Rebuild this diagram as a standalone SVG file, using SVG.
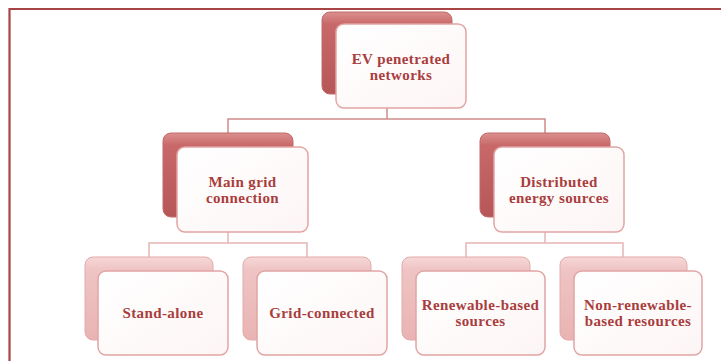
<svg xmlns="http://www.w3.org/2000/svg" width="721" height="361" viewBox="0 0 721 361">
<defs>
<linearGradient id="gDark" x1="0" y1="0" x2="0" y2="1">
<stop offset="0" stop-color="#dc8f8f"/>
<stop offset="0.15" stop-color="#c86868"/>
<stop offset="1" stop-color="#b65656"/>
</linearGradient>
<linearGradient id="gLight" x1="0" y1="0" x2="0" y2="1">
<stop offset="0" stop-color="#f6d8d8"/>
<stop offset="0.15" stop-color="#efc4c4"/>
<stop offset="1" stop-color="#e9b3b3"/>
</linearGradient>
<linearGradient id="gFront" x1="0" y1="0" x2="1" y2="1">
<stop offset="0" stop-color="#ffffff"/>
<stop offset="1" stop-color="#fdf5f5"/>
</linearGradient>
</defs>
<style>
.bd{fill:url(#gDark);stroke:#c06a6a;stroke-width:1}
.bl{fill:url(#gLight);stroke:#e4aaaa;stroke-width:1}
.fr{fill:url(#gFront);stroke:#e2a4a4;stroke-width:1.5}
.t{font-family:"Liberation Serif","Times New Roman",serif;font-weight:bold;font-size:15px;letter-spacing:0.4px;fill:#a93d3d;text-anchor:middle}
.c1{fill:none;stroke:#cf8b8b;stroke-width:1.5}
.c2{fill:none;stroke:#e8b4b4;stroke-width:1.5}
.frame{fill:none;stroke:#a94444;stroke-width:2.2}
</style>
<rect width="721" height="361" fill="#ffffff"/>
<path class="frame" d="M721 9 H9.5 V361"/>
<g id="connectors">
<path class="c1" d="M387 108 V119 M228 133 V119 H545 V133"/>
<path class="c2" d="M228 232 V243 M149 257 V243 H307 V257"/>
<path class="c2" d="M545 232 V243 M466 257 V243 H623 V257"/>
</g>
<g id="n-ev">
<rect class="bd" x="322" y="12" width="130" height="82" rx="8"/>
<rect class="fr" x="336" y="24" width="130" height="84" rx="8"/>
<text class="t" x="401" y="64">EV penetrated</text>
<text class="t" x="401" y="80">networks</text>
</g>
<g id="n-main">
<rect class="bd" x="163" y="133" width="130" height="84" rx="8"/>
<rect class="fr" x="177" y="147" width="131" height="85" rx="8"/>
<text class="t" x="242.5" y="187">Main grid</text>
<text class="t" x="242.5" y="203">connection</text>
</g>
<g id="n-dist">
<rect class="bd" x="480" y="133" width="130" height="84" rx="8"/>
<rect class="fr" x="494" y="147" width="130" height="85" rx="8"/>
<text class="t" x="559" y="187">Distributed</text>
<text class="t" x="559" y="203">energy sources</text>
</g>
<g id="n-stand">
<rect class="bl" x="85" y="257" width="128" height="83" rx="8"/>
<rect class="fr" x="98" y="271" width="130" height="84" rx="8"/>
<text class="t" x="163" y="318">Stand-alone</text>
</g>
<g id="n-gridc">
<rect class="bl" x="243" y="257" width="128" height="83" rx="8"/>
<rect class="fr" x="257" y="271" width="130" height="84" rx="8"/>
<text class="t" x="322" y="318">Grid-connected</text>
</g>
<g id="n-ren">
<rect class="bl" x="402" y="257" width="128" height="83" rx="8"/>
<rect class="fr" x="416" y="271" width="129" height="84" rx="8"/>
<text class="t" x="480.5" y="310">Renewable-based</text>
<text class="t" x="480.5" y="326">sources</text>
</g>
<g id="n-nonren">
<rect class="bl" x="560" y="257" width="127" height="83" rx="8"/>
<rect class="fr" x="574" y="271" width="128" height="84" rx="8"/>
<text class="t" x="638" y="310">Non-renewable-</text>
<text class="t" x="638" y="326">based resources</text>
</g>
</svg>
